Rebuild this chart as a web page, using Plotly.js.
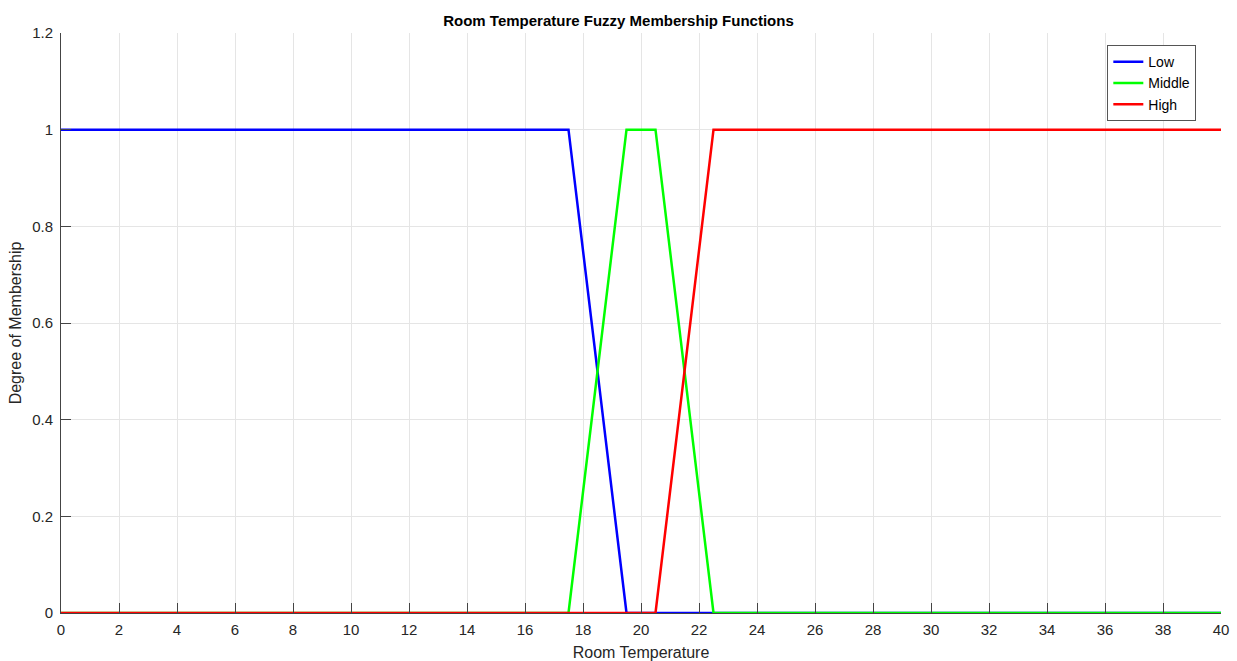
<!DOCTYPE html>
<html><head><meta charset="utf-8">
<script src="https://cdn.plot.ly/plotly-3.0.1.min.js"></script>
<style>html,body{margin:0;padding:0;background:#fff;}#chart{width:1237px;height:661px;}</style>
</head><body><div id="chart"></div>
<script>
const seriesNames = ["Low", "Middle", "High"];
const seriesColors = ["#0000ff", "#00ff00", "#ff0000"];
const lowX = [0, 17.5, 19.5, 40];
const lowY = [1, 1, 0, 0];
const middleX = [0, 17.5, 19.5, 20.5, 22.5, 40];
const middleY = [0, 0, 1, 1, 0, 0];
const highX = [0, 20.5, 22.5, 40];
const highY = [0, 0, 1, 1];
const xTicks = [0,2,4,6,8,10,12,14,16,18,20,22,24,26,28,30,32,34,36,38,40];
const yTicks = [0, 0.2, 0.4, 0.6, 0.8, 1, 1.2];
const yTickText = ["0", "0.2", "0.4", "0.6", "0.8", "1", "1.2"];

const xs = [lowX, middleX, highX];
const ys = [lowY, middleY, highY];
const traces = seriesNames.map((n, i) => ({
  x: xs[i], y: ys[i], name: n, type: "scatter", mode: "lines",
  line: {color: seriesColors[i], width: 2.5}, cliponaxis: false
}));

const font = "'Liberation Sans', Arial, Helvetica, sans-serif";
const layout = {
  width: 1237, height: 661,
  margin: {l: 61, r: 16, t: 33, b: 48},
  paper_bgcolor: "#fff", plot_bgcolor: "#fff",
  font: {family: font, color: "#262626", size: 14},
  title: {text: "<b>Room Temperature Fuzzy Membership Functions</b>", font: {size: 15, color: "#000"}, x: 0.5, xanchor: "center", y: 0.968, yanchor: "middle"},
  xaxis: {
    title: {text: "Room Temperature", font: {size: 16, color: "#262626"}, standoff: 9},
    range: [0, 40], tickvals: xTicks, ticktext: xTicks.map(String),
    ticks: "inside", ticklen: 10, tickcolor: "#444", tickwidth: 1,
    showgrid: true, gridcolor: "#e5e5e5", gridwidth: 1,
    showline: true, linecolor: "#444", linewidth: 1, mirror: false,
    zeroline: false, tickfont: {size: 15, color: "#262626"}, ticklabelstandoff: 3, fixedrange: true
  },
  yaxis: {
    title: {text: "Degree of Membership", font: {size: 16, color: "#262626"}, standoff: 6},
    range: [0, 1.2], tickvals: yTicks, ticktext: yTickText,
    ticks: "inside", ticklen: 10, tickcolor: "#444", tickwidth: 1,
    showgrid: true, gridcolor: "#e5e5e5", gridwidth: 1,
    showline: true, linecolor: "#444", linewidth: 1, mirror: false,
    zeroline: false, tickfont: {size: 15, color: "#262626"}, ticklabelstandoff: 4, fixedrange: true
  },
  showlegend: true,
  legend: {
    x: 0.902, y: 0.979, xanchor: "left", yanchor: "top",
    bgcolor: "#fff", bordercolor: "#555", borderwidth: 1,
    font: {size: 14, color: "#000"}, tracegroupgap: 0, itemwidth: 30
  }
};
Plotly.newPlot("chart", traces, layout, {displayModeBar: false, staticPlot: true});
</script></body></html>
